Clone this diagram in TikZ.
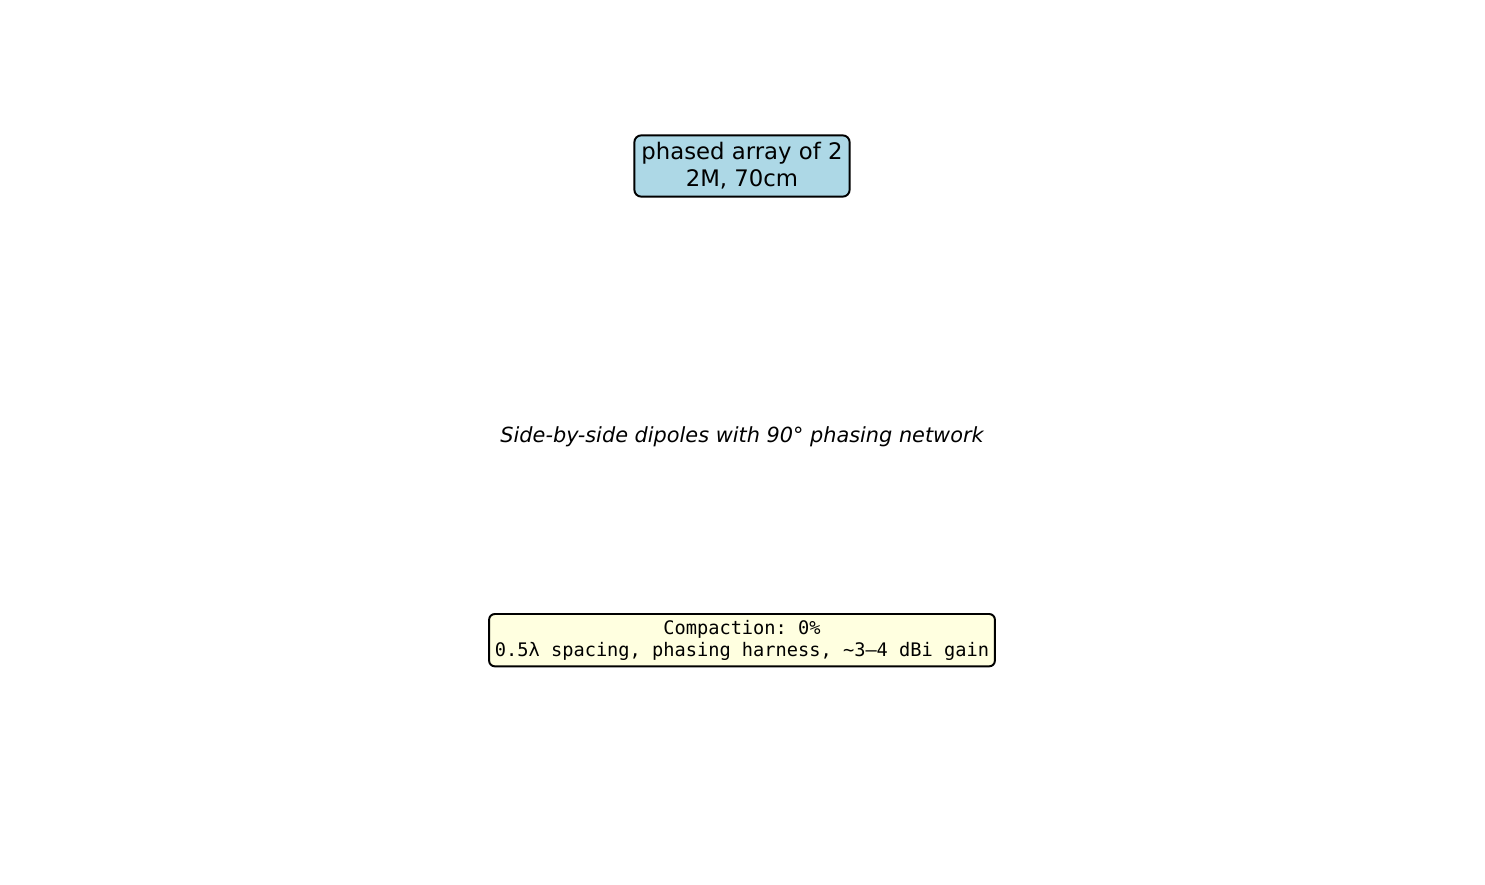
\documentclass[tikz,border=0pt]{standalone}
\usepackage{fontspec}
\setmainfont{DejaVu Sans}
\setmonofont{DejaVu Sans Mono}
\usetikzlibrary{positioning}
\definecolor{boxblue}{HTML}{ADD8E6}
\definecolor{boxyellow}{HTML}{FFFFE0}
\tikzstyle{title} = [rectangle, rounded corners=4.9pt, align=center,
    draw=black, line width=1.4pt, fill=boxblue, inner sep=5.1pt,
    font=\fontsize{16.4}{19.5}\selectfont]
\tikzstyle{caption} = [align=center,
    font=\fontsize{15}{18}\selectfont\itshape]
\tikzstyle{summary} = [rectangle, rounded corners=4.1pt, align=center,
    draw=black, line width=1.4pt, fill=boxyellow, inner sep=4.2pt,
    font=\fontsize{13.43}{16.2}\selectfont\ttfamily]

\begin{document}
\begin{tikzpicture}[x=0.72pt, y=-0.72pt, node distance=195pt]

        \useasboundingbox (0,0) rectangle (1485,885);

        % Nodes
        \node (array) [title] at (742,166) {phased array of 2\\2M, 70cm};

        \node (layout) [caption, below of=array] {Side-by-side dipoles with 90° phasing network};

        \node (compact) [summary, below of=layout, node distance=146.4pt] {Compaction: 0\%\\0.5λ spacing, phasing harness, \textasciitilde3–4 dBi gain};

    \end{tikzpicture}
\end{document}
